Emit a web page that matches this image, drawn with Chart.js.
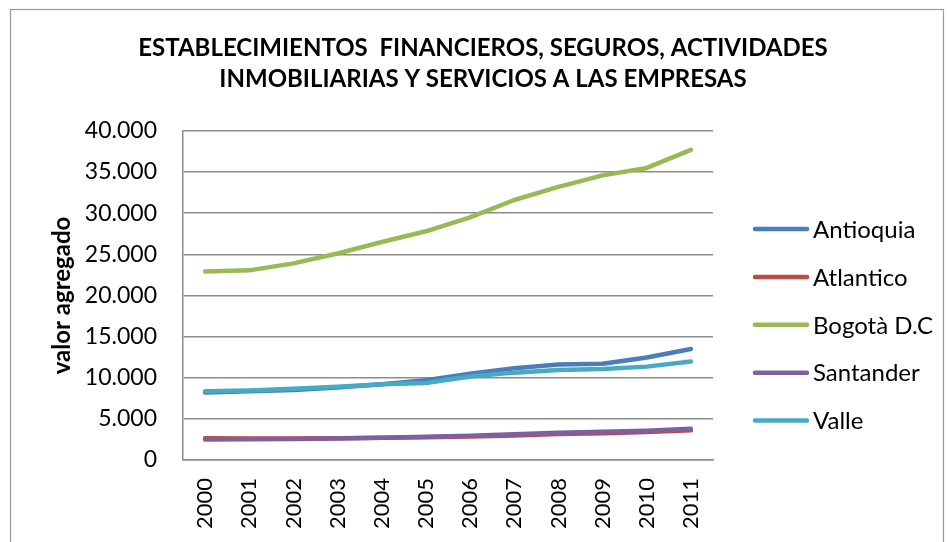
<!DOCTYPE html>
<html>
<head>
<meta charset="utf-8">
<script src="https://cdn.jsdelivr.net/npm/chart.js@4/dist/chart.umd.min.js"></script>
<style>
  html, body { margin: 0; padding: 0; background: #ffffff; }
  #wrap { position: relative; width: 948px; height: 542px; }
  canvas { display: block; }
</style>
</head>
<body>
<div id="wrap"><canvas id="c" width="948" height="542"></canvas></div>
<script>
const years = ['2000','2001','2002','2003','2004','2005','2006','2007','2008','2009','2010','2011'];
const antioquia = [8200, 8350, 8500, 8800, 9200, 9700, 10500, 11150, 11600, 11700, 12450, 13500];
const atlantico = [2650, 2600, 2620, 2650, 2700, 2780, 2850, 2980, 3150, 3250, 3400, 3620];
const bogota    = [22900, 23050, 23900, 25100, 26500, 27800, 29500, 31600, 33200, 34600, 35500, 37700];
const santander = [2500, 2520, 2560, 2600, 2700, 2840, 2950, 3120, 3320, 3440, 3570, 3810];
const valle     = [8350, 8450, 8650, 8900, 9200, 9350, 10150, 10620, 10940, 11070, 11350, 11960];
const seriesNames = ['Antioquia', 'Atlantico', 'Bogotà D.C', 'Santander', 'Valle'];
const yTicks = [0, 5000, 10000, 15000, 20000, 25000, 30000, 35000, 40000];
const titleLines = ['ESTABLECIMIENTOS  FINANCIEROS, SEGUROS, ACTIVIDADES', 'INMOBILIARIAS Y SERVICIOS A LAS EMPRESAS'];
const yTitle = 'valor agregado';

const colors = ['#4A7EBB', '#BE4B48', '#98B954', '#7D60A0', '#46AAC5'];
const seriesData = [antioquia, atlantico, bogota, santander, valle];
const FONT = 'Lato, "Open Sans", sans-serif';
const GRID = '#8C8C8C';

function fmt(v) { return String(v).replace(/\B(?=(\d{3})+(?!\d))/g, '.'); }

const frame = {
  id: 'frame',
  beforeDraw(chart) {
    const ctx = chart.ctx;
    ctx.save();
    ctx.fillStyle = '#ffffff';
    ctx.fillRect(0, 0, chart.width, chart.height);
    ctx.strokeStyle = '#9A9A9A';
    ctx.lineWidth = 1.2;
    ctx.strokeRect(10.5, 9.5, 933, 600);
    ctx.restore();
  }
};

const sideLegend = {
  id: 'sideLegend',
  afterDraw(chart) {
    const ctx = chart.ctx;
    ctx.save();
    const x0 = 755, x1 = 807, tx = 813, yStart = 229, dy = 47.9;
    ctx.font = '24px ' + FONT;
    ctx.textBaseline = 'middle';
    ctx.textAlign = 'left';
    chart.data.datasets.forEach((ds, i) => {
      const y = yStart + i * dy;
      ctx.strokeStyle = ds.borderColor;
      ctx.lineWidth = 4.5;
      ctx.lineCap = 'round';
      ctx.beginPath();
      ctx.moveTo(x0, y);
      ctx.lineTo(x1, y);
      ctx.stroke();
      ctx.fillStyle = '#000000';
      ctx.fillText(ds.label, tx, y + 1);
    });
    ctx.restore();
  }
};

new Chart(document.getElementById('c'), {
  type: 'line',
  data: {
    labels: years,
    datasets: seriesNames.map((name, i) => ({
      label: name,
      data: seriesData[i],
      borderColor: colors[i],
      backgroundColor: colors[i],
      borderWidth: 4.5,
      borderCapStyle: 'round',
      borderJoinStyle: 'round',
      pointRadius: 0,
      pointHoverRadius: 0,
      tension: 0,
      fill: false,
      order: seriesNames.length - 1 - i
    }))
  },
  options: {
    responsive: false,
    animation: false,
    devicePixelRatio: 1,
    layout: { padding: { left: 18, right: 0, top: 0, bottom: 0 } },
    plugins: {
      legend: { display: false },
      tooltip: { enabled: false },
      title: {
        display: true,
        text: titleLines,
        color: '#000000',
        font: { family: FONT, size: 24, weight: 'bold', lineHeight: 1.29 },
        padding: { top: 32.5, bottom: 36.5 }
      }
    },
    scales: {
      x: {
        offset: true,
        grid: { display: false, drawTicks: false },
        border: { display: true, color: GRID, width: 1.5 },
        ticks: {
          color: '#000000',
          font: { family: FONT, size: 22 },
          minRotation: 90,
          maxRotation: 90,
          padding: 18,
          autoSkip: false
        },
        afterFit(scale) { scale.height = 82; }
      },
      y: {
        min: 0,
        max: 40000,
        afterBuildTicks(scale) { scale.ticks = yTicks.map(v => ({ value: v })); },
        grid: { color: GRID, lineWidth: 1.5, drawTicks: false },
        border: { display: true, color: GRID, width: 1.5 },
        ticks: {
          color: '#000000',
          font: { family: FONT, size: 23 },
          padding: 26,
          callback: v => fmt(v)
        },
        title: {
          display: true,
          text: yTitle,
          color: '#000000',
          font: { family: FONT, size: 24, weight: 'bold' },
          padding: { top: 30, bottom: 0 }
        },
        afterFit(scale) { scale.width = 165; }
      },
      legendSpace: {
        type: 'linear',
        position: 'right',
        display: true,
        grid: { display: false, drawTicks: false },
        border: { display: false },
        ticks: { display: false },
        afterFit(scale) { scale.width = 235; }
      }
    }
  },
  plugins: [frame, sideLegend]
});
</script>
</body>
</html>
